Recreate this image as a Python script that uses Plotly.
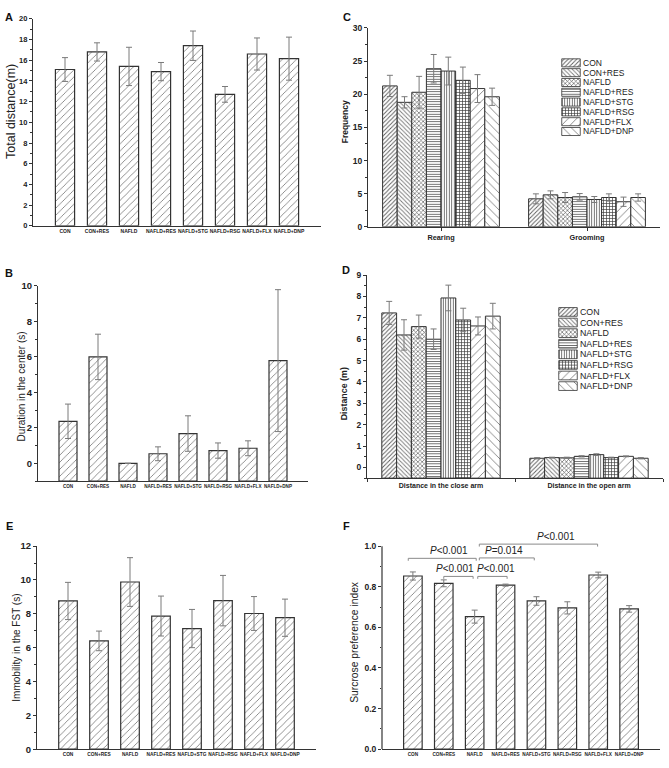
import plotly.graph_objects as go

W, H = 669, 768
FONT = "Liberation Sans, Arial, sans-serif"
AX = "#333333"
TXT = "#222222"
ERR = "#7a7a7a"

# ---------------- data ----------------
groups = ["CON", "CON+RES", "NAFLD", "NAFLD+RES", "NAFLD+STG", "NAFLD+RSG", "NAFLD+FLX", "NAFLD+DNP"]

# A: open field total distance (m)
total_distance = [15.1, 16.8, 15.4, 14.9, 17.4, 12.7, 16.6, 16.15]
total_distance_err = [1.15, 0.88, 1.85, 0.88, 1.42, 0.76, 1.55, 2.08]

# B: duration in the center (s)
center_duration = [2.37, 6.0, 0.0, 0.54, 1.68, 0.72, 0.85, 5.79]
center_duration_err = [0.97, 1.28, 0.0, 0.39, 1.0, 0.43, 0.42, 4.0]

# C: rearing / grooming frequency
c_categories = ["Rearing", "Grooming"]
rearing = [21.26, 18.78, 20.3, 23.85, 23.5, 22.1, 20.86, 19.62]
rearing_err = [1.6, 0.85, 2.4, 2.15, 2.1, 2.0, 2.1, 1.3]
grooming = [4.22, 4.82, 4.42, 4.52, 4.12, 4.42, 3.78, 4.42]
grooming_err = [0.75, 0.6, 0.75, 0.5, 0.45, 0.55, 0.7, 0.55]

# D: elevated plus maze distance (m)
d_categories = ["Distance in the close arm", "Distance in the open arm"]
close_arm = [7.23, 6.2, 6.59, 6.0, 7.93, 6.9, 6.62, 7.08]
close_arm_err = [0.54, 0.71, 0.54, 0.48, 0.6, 0.55, 0.42, 0.6]
open_arm = [0.43, 0.46, 0.45, 0.52, 0.6, 0.46, 0.52, 0.43]
open_arm_err = [0.03, 0.02, 0.03, 0.03, 0.04, 0.02, 0.02, 0.03]

# E: immobility in the FST (s)
immobility = [8.76, 6.4, 9.88, 7.87, 7.13, 8.78, 8.02, 7.77]
immobility_err = [1.1, 0.58, 1.44, 1.18, 1.13, 1.49, 1.0, 1.1]

# F: sucrose preference index
sucrose = [0.853, 0.817, 0.653, 0.808, 0.730, 0.696, 0.858, 0.691]
sucrose_err = [0.02, 0.017, 0.032, 0.005, 0.021, 0.03, 0.014, 0.016]

# F: significance brackets
bracket_labels = ["<i>P</i>&lt;0.001", "<i>P</i>&lt;0.001", "<i>P</i>&lt;0.001", "<i>P</i>=0.014", "<i>P</i>&lt;0.001"]
bracket_x0 = [-0.15, 1.0, 2.1, 2.15, 2.15]
bracket_x1 = [2.05, 1.95, 3.05, 3.93, 5.98]
bracket_y = [0.94, 0.851, 0.851, 0.942, 1.01]
bracket_label_x = [1.18, 1.35, 2.7, 2.95, 4.63]

# ---------------- styles ----------------
group_pattern_shape = ["/", "\\", "x", "-", "|", "+", "/", "\\"]
group_pattern_size = [3, 3, 3, 2.5, 2.5, 3, 6, 6]
group_pattern_fg = ["#5a5a5a", "#7a7a7a", "#4a4a4a", "#555555", "#555555", "#3a3a3a", "#808080", "#808080"]
group_pattern_solid = [0.3, 0.3, 0.35, 0.35, 0.35, 0.4, 0.15, 0.15]
single_pattern = dict(shape="/", size=5, solidity=0.15, fgcolor="#6e6e6e", bgcolor="white", fillmode="replace")


def xdom(a, b):
    return [a / W, b / W]


def ydom(top, bottom):
    return [1 - bottom / H, 1 - top / H]


def ax_names(i):
    return ("x", "y") if i == 1 else (f"x{i}", f"y{i}")


fig = go.Figure()


def add_single(i, values, errors, base=0.0):
    xa, ya = ax_names(i)
    fig.add_trace(go.Bar(
        x=groups, y=[v - base for v in values], base=base, width=0.6,
        xaxis=xa, yaxis=ya, showlegend=False,
        marker=dict(color="white", line=dict(color=AX, width=1.2), pattern=single_pattern),
        error_y=dict(type="data", array=errors, color=ERR, thickness=1, width=3),
    ))


add_single(1, total_distance, total_distance_err)
add_single(2, center_duration, center_duration_err, base=-1.0)
add_single(5, immobility, immobility_err)
add_single(6, sucrose, sucrose_err)


def add_grouped(i, cats, v1, e1, v2, e2, base=0.0):
    xa, ya = ax_names(i)
    for k, g in enumerate(groups):
        fig.add_trace(go.Bar(
            name=g, x=cats, y=[v1[k] - base, v2[k] - base], base=base,
            xaxis=xa, yaxis=ya, showlegend=False,
            marker=dict(color="white", line=dict(color=AX, width=1),
                        pattern=dict(shape=group_pattern_shape[k], size=group_pattern_size[k],
                                     solidity=group_pattern_solid[k], fgcolor=group_pattern_fg[k],
                                     bgcolor="white", fillmode="replace")),
            error_y=dict(type="data", array=[e1[k], e2[k]], color=ERR, thickness=1, width=3),
        ))


add_grouped(3, c_categories, rearing, rearing_err, grooming, grooming_err)
add_grouped(4, d_categories, close_arm, close_arm_err, open_arm, open_arm_err, base=-0.5)

# manual compact legends (swatches) for C and D
legend_swatch = [1] * len(groups)
for i in (7, 8):
    xa, ya = ax_names(i)
    fig.add_trace(go.Bar(
        orientation="h", y=groups, x=legend_swatch, width=0.82,
        xaxis=xa, yaxis=ya, showlegend=False, hoverinfo="skip",
        marker=dict(color="white", line=dict(color=AX, width=0.8),
                    pattern=dict(shape=group_pattern_shape, size=group_pattern_size,
                                 solidity=group_pattern_solid, fgcolor=group_pattern_fg,
                                 bgcolor="white", fillmode="replace")),
    ))


def yaxis(domain, rng, dtick, mdtick, anchor, fs, fmt=None, showline=True):
    d = dict(domain=domain, range=rng, anchor=anchor, showline=showline, linecolor=AX, linewidth=1.2,
             ticks="outside", ticklen=3, tickwidth=1, tickcolor=AX,
             tickmode="linear", tick0=0, dtick=dtick,
             minor=dict(ticks="outside", ticklen=1.5, tickwidth=1, tickcolor=AX, tick0=0, dtick=mdtick),
             showgrid=False, zeroline=False,
             tickfont=dict(family=FONT, size=fs, color=TXT, weight="bold"))
    if fmt:
        d["tickformat"] = fmt
    return d


def xaxis_cat(domain, anchor, fs, rng, ticks="", tickson="labels"):
    return dict(domain=domain, anchor=anchor, range=rng, type="category", showline=True,
                linecolor=AX, linewidth=1.2, ticks=ticks, ticklen=3, tickcolor=AX, tickson=tickson,
                showgrid=False, zeroline=False, tickangle=0,
                tickfont=dict(family=FONT, size=fs, color=TXT, weight="bold"))


layout = dict(
    width=W, height=H, margin=dict(l=0, r=0, t=0, b=0),
    paper_bgcolor="white", plot_bgcolor="white",
    barmode="group", bargap=0.2, bargroupgap=0.0,
    font=dict(family=FONT, color=TXT),
    showlegend=False,
)

# A
layout["xaxis"] = xaxis_cat(xdom(33, 321), "y", 5, [-1, 8])
layout["yaxis"] = yaxis(ydom(13, 223), [0, 20], 2, 1, "x", 7.5)
# B
layout["xaxis2"] = xaxis_cat(xdom(38, 308), "y2", 4.6, [-1, 8])
layout["yaxis2"] = yaxis(ydom(284, 482), [-1, 10], 2, 1, "x2", 9.5)
# C
layout["xaxis3"] = xaxis_cat(xdom(368, 660), "y3", 7.3, [-0.5, 1.5], ticks="outside")
layout["yaxis3"] = yaxis(ydom(22.3, 224), [0, 30], 5, 2.5, "x3", 8.5)
# D
layout["xaxis4"] = xaxis_cat(xdom(367, 663), "y4", 7, [-0.5, 1.5], ticks="outside", tickson="boundaries")
layout["yaxis4"] = yaxis(ydom(273, 479), [-0.5, 9], 1, 0.5, "x4", 8.5)
# E
layout["xaxis5"] = xaxis_cat(xdom(37, 316), "y5", 4.8, [-1, 8])
layout["yaxis5"] = yaxis(ydom(548, 754), [0, 12], 2, 1, "x5", 9.5)
# F (range extended a bit for the brackets; axis line drawn to 1.0 as shape)
F_TOP = 1.03
layout["xaxis6"] = xaxis_cat(xdom(382, 660), "y6", 4.7, [-1, 8])
layout["yaxis6"] = yaxis(ydom(754 - 206 * F_TOP, 754), [0, F_TOP], 0.2, 0.1, "x6", 8.5, fmt=".1f", showline=False)

# legends
for i, (xd, yd, fs) in {7: ((561, 581), (52.7, 132.3), 8.5), 8: ((558, 578), (305, 391), 8.8)}.items():
    layout[f"xaxis{i}"] = dict(domain=xdom(*xd), anchor=f"y{i}", range=[-0.04, 1.04], visible=False)
    layout[f"yaxis{i}"] = dict(domain=ydom(*yd), anchor=f"x{i}", type="category", autorange="reversed",
                               side="right", showline=False, ticks="", showgrid=False, zeroline=False,
                               tickmode="array", tickvals=groups, ticktext=groups,
                               ticklabelstandoff=1,
                               tickfont=dict(family=FONT, size=fs, color=TXT))

fig.update_layout(**layout)

# F y-axis line (0 .. 1.0)
fig.add_shape(type="line", xref="x6 domain", yref="y6", x0=0, x1=0, y0=0, y1=1.0,
              line=dict(color=AX, width=1.2))

# F brackets
BR = "#8a8a8a"
DROP = 0.012
for x0, x1, yb, lab, lx in zip(bracket_x0, bracket_x1, bracket_y, bracket_labels, bracket_label_x):
    fig.add_shape(type="path", xref="x6", yref="y6",
                  path=f"M {x0},{yb - DROP} L {x0},{yb} L {x1},{yb} L {x1},{yb - DROP}",
                  line=dict(color=BR, width=1))
    fig.add_annotation(x=lx, y=yb, xref="x6", yref="y6", text=lab, showarrow=False,
                       xanchor="center", yanchor="bottom",
                       font=dict(family=FONT, size=10, color=TXT))

# y-axis titles
titles = [
    ("Total distance(m)", 11.5, 107, 12.5, "normal"),
    ("Duration in the center (s)", 21, 386, 10, "normal"),
    ("Frequency", 345, 118, 8.5, "bold"),
    ("Distance (m)", 344, 394, 8.9, "bold"),
    ("Immobility in the FST (s)", 17, 651, 10, "normal"),
    ("Surcrose preference index", 355, 645, 10.3, "normal"),
]
for t, x, y, fs, wt in titles:
    fig.add_annotation(x=x / W, y=1 - y / H, xref="paper", yref="paper", text=t, textangle=-90,
                       showarrow=False, xanchor="center", yanchor="middle",
                       font=dict(family=FONT, size=fs, color=TXT, weight=wt))

# panel letters
letters = [("A", 3, 3), ("B", 3, 263), ("C", 341, 3), ("D", 340, 260), ("E", 4, 519), ("F", 341, 519)]
for t, x, y in letters:
    fig.add_annotation(x=x / W, y=1 - y / H, xref="paper", yref="paper", text=t, showarrow=False,
                       xanchor="left", yanchor="top",
                       font=dict(family=FONT, size=11, color="#111111", weight="bold"))

fig.write_html("out.html", config={"displayModeBar": False},
               post_script="document.body.style.margin='0';")
